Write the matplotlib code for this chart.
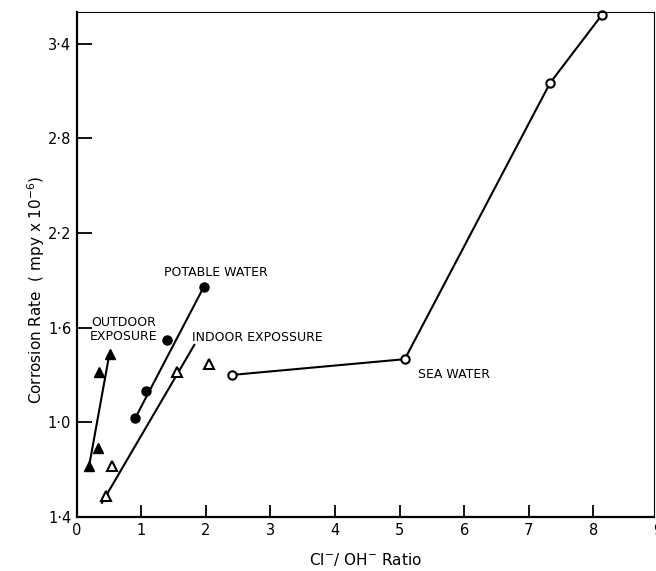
import matplotlib.pyplot as plt
import matplotlib.transforms as mtransforms

# data (x = Cl-/OH- ratio, y = corrosion rate)
outdoor_x = [0.19, 0.33, 0.34, 0.52]
outdoor_y = [0.72, 0.84, 1.32, 1.43]
outdoor_fit_x = [0.19, 0.50]
outdoor_fit_y = [0.72, 1.42]

potable_x = [0.90, 1.08, 1.40, 1.97]
potable_y = [1.025, 1.20, 1.52, 1.86]
potable_fit_x = [0.91, 1.97]
potable_fit_y = [1.03, 1.86]

indoor_x = [0.45, 0.55, 1.56, 2.05]
indoor_y = [0.53, 0.72, 1.32, 1.37]
indoor_fit_x = [0.39, 1.82]
indoor_fit_y = [0.49, 1.49]

sea_x = [2.40, 5.08, 7.33, 8.13]
sea_y = [1.30, 1.40, 3.15, 3.58]

yticks = [0.4, 1.0, 1.6, 2.2, 2.8, 3.4]
yticklabels = ['1·4', '1·0', '1·6', '2·2', '2·8', '3·4']
xticks = [0, 1, 2, 3, 4, 5, 6, 7, 8]

fig = plt.figure(figsize=(6.56, 5.71), dpi=100)
ax = fig.add_axes([0.117, 0.0946, 0.880, 0.8844])

# outdoor exposure
ax.plot(outdoor_fit_x, outdoor_fit_y, 'k-', lw=1.5)
ax.plot(outdoor_x, outdoor_y, 'k^', ms=7, clip_on=False)
# potable water
ax.plot(potable_fit_x, potable_fit_y, 'k-', lw=1.5)
ax.plot(potable_x, potable_y, 'ko', ms=6.5, clip_on=False)
# indoor exposure
ax.plot(indoor_fit_x, indoor_fit_y, 'k-', lw=1.5)
ax.plot(indoor_x, indoor_y, '^', mfc='white', mec='k', mew=1.5, ms=7, clip_on=False)
# sea water
ax.plot(sea_x, sea_y, 'k-', lw=1.5, marker='o', mfc='white', mec='k',
        mew=1.5, ms=6, clip_on=False)

fs = 9
ax.text(0.73, 1.59, 'OUTDOOR\nEXPOSURE', ha='center', va='center', fontsize=fs,
        linespacing=1.1)
ax.text(1.35, 1.95, 'POTABLE WATER', ha='left', va='center', fontsize=fs)
ax.text(1.79, 1.54, 'INDOOR EXPOSSURE', ha='left', va='center', fontsize=fs)
ax.text(5.28, 1.30, 'SEA WATER', ha='left', va='center', fontsize=fs)

ax.set_xlim(0, 8.94)
ax.set_ylim(0.4, 3.6)
ax.set_xticks(xticks)
ax.set_yticks(yticks)
ax.set_yticklabels(yticklabels)
ax.tick_params(axis='both', direction='in', length=9, width=1.3,
               labelsize=10.5, pad=4)
ax.tick_params(axis='y', length=11)
# the "9" label sits at the clipped right edge
trans = mtransforms.blended_transform_factory(ax.transData, ax.transAxes)
ax.text(9, -0.012, '9', transform=trans, ha='center', va='top', fontsize=10.5,
        clip_on=False)

for side in ['left', 'bottom']:
    ax.spines[side].set_linewidth(1.6)
for side in ['top', 'right']:
    ax.spines[side].set_linewidth(0.8)

ax.set_ylabel('Corrosion Rate  ( mpy x 10$^{-6}$)', fontsize=11)
ax.yaxis.set_label_coords(-0.052, 0.45)
ax.set_xlabel('Cl$^{-}$/ OH$^{-}$ Ratio', fontsize=11, labelpad=10)

fig.savefig('out.png', dpi=100)
